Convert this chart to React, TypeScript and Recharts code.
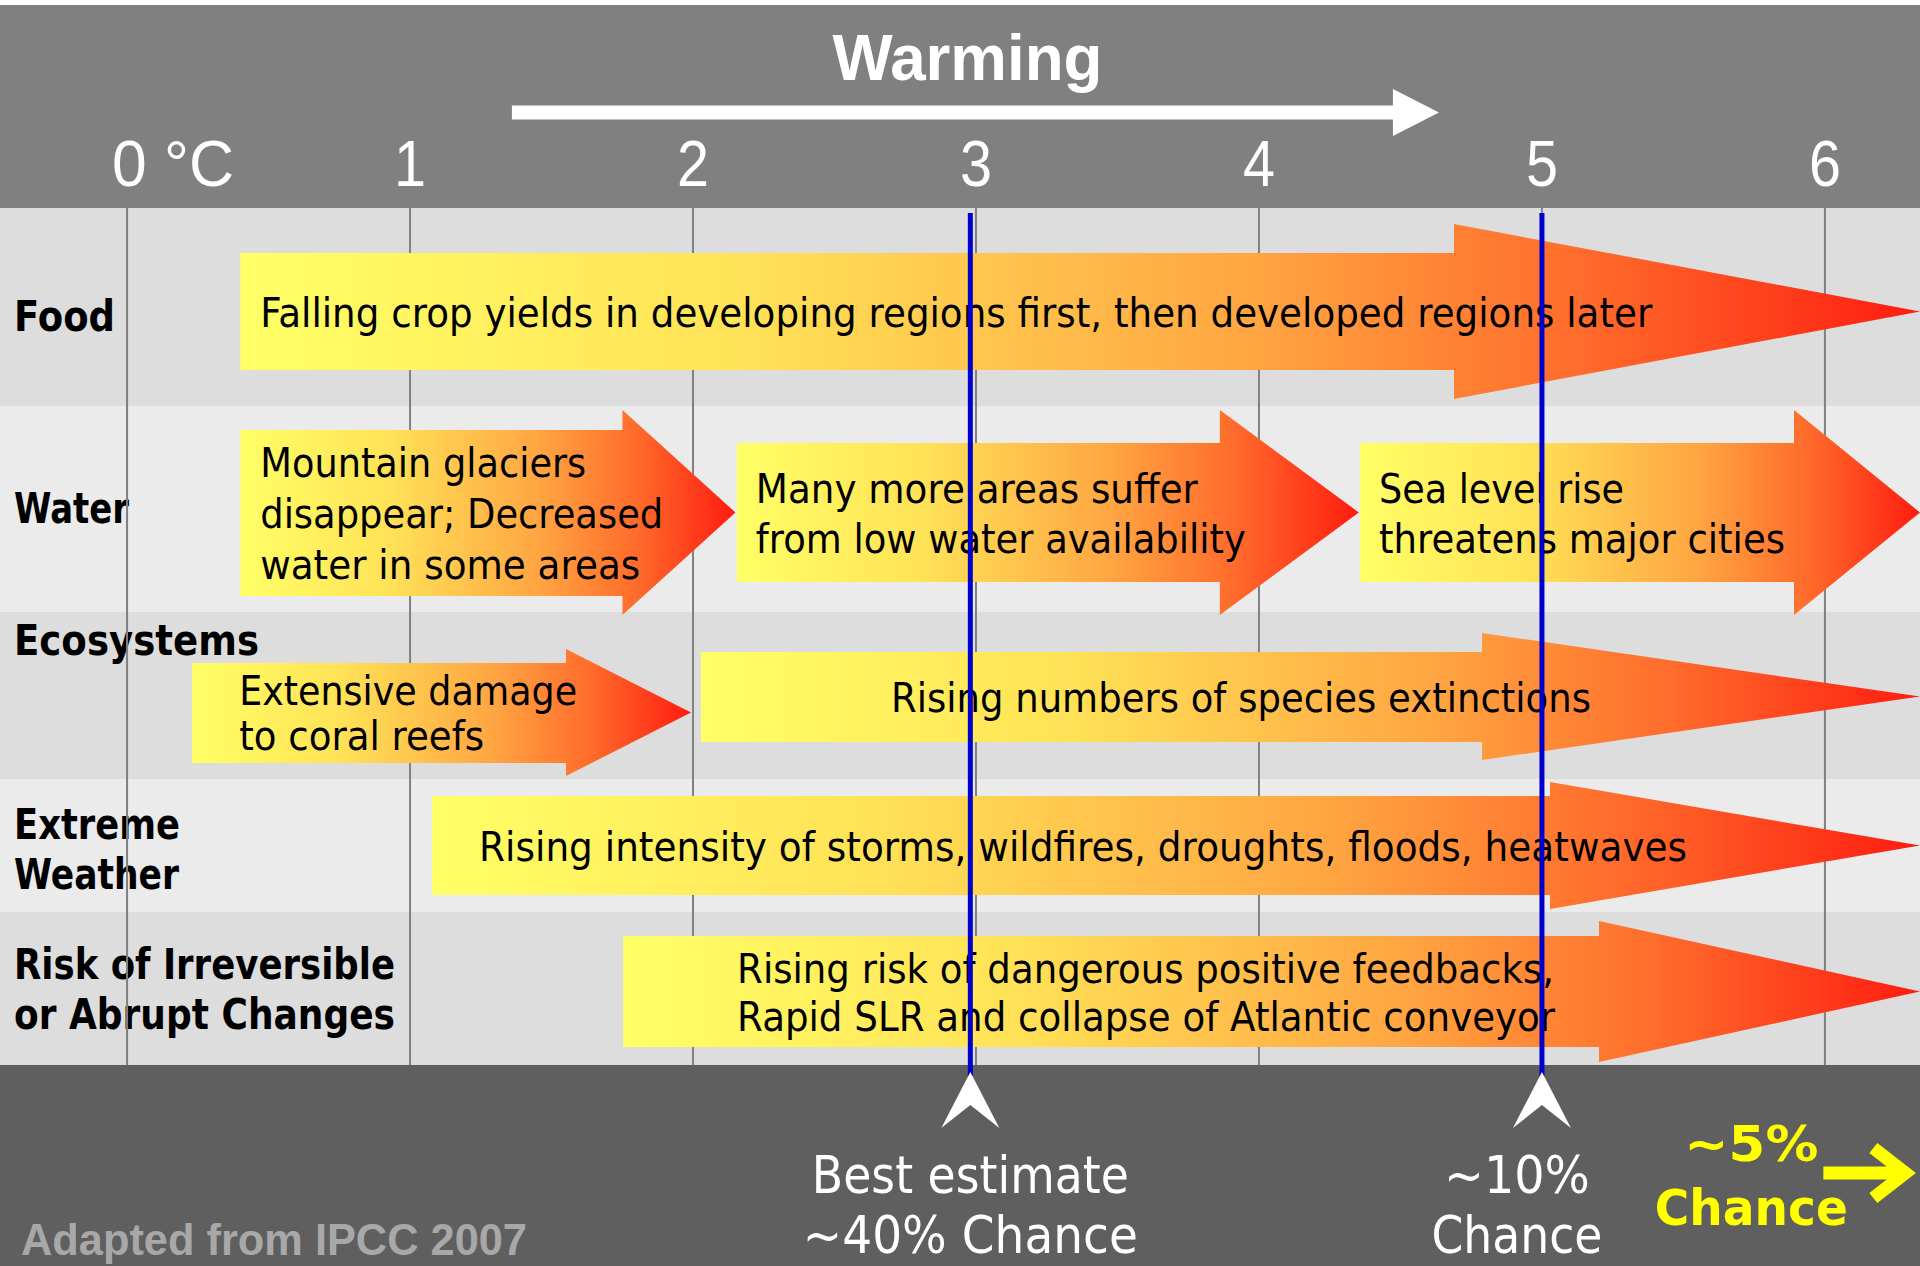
import { ComposedChart, XAxis, YAxis, ReferenceArea, ReferenceLine, Scatter } from 'recharts';

// ---- data ----
const TICK_VALUES = [0, 1, 2, 3, 4, 5, 6];
const TICK_LABELS = ['0 °C', '1', '2', '3', '4', '5', '6'];

const TITLE = 'Warming';
const TITLE_FROM = 1.36;
const TITLE_TO = 4.636;

const ROW_LABELS = [
  ['Food'],
  ['Water'],
  ['Ecosystems'],
  ['Extreme', 'Weather'],
  ['Risk of Irreversible', 'or Abrupt Changes'],
];

const IMPACT_TEXT = [
  ['Falling crop yields in developing regions first, then developed regions later'],
  ['Mountain glaciers', 'disappear; Decreased', 'water in some areas'],
  ['Many more areas suffer', 'from low water availability'],
  ['Sea level rise', 'threatens major cities'],
  ['Extensive damage', 'to coral reefs'],
  ['Rising numbers of species extinctions'],
  ['Rising intensity of storms, wildfires, droughts, floods, heatwaves'],
  ['Rising risk of dangerous positive feedbacks,', 'Rapid SLR and collapse of Atlantic conveyor'],
];
const IMPACT_ROW = [0, 1, 1, 1, 2, 2, 3, 4];
const IMPACT_FROM = [0.4, 0.4, 2.155, 4.357, 0.23, 2.028, 1.078, 1.753];
const IMPACT_TO = [6.336, 2.15, 4.353, 6.336, 1.993, 6.336, 6.336, 6.336];

const MARK_AT = [2.98, 5];
const MARK_TEXT = [['Best estimate', '~40% Chance'], ['~10%', 'Chance']];
const TAIL_AT = 5.74;
const TAIL_TEXT = ['~5%', 'Chance'];
const SOURCE = 'Adapted from IPCC 2007';

// ---- layout / style ----
const W = 1920;
const H = 1266;
const X_DOMAIN = [-0.449, 6.336];
const ROW_EDGES = [0, 198, 404, 571, 704, 857];
const ROW_FILL = ['#dddddd', '#ebebeb'];
const LABEL_BASE = [123, 117, 43, 60, 67];

// head top, head bottom, body top, body bottom (plot px)
const ARROW_BOX = [
  [16, 191, 45, 162],
  [202, 407, 222, 388],
  [202, 407, 235, 374],
  [202, 407, 235, 374],
  [441, 568, 455, 555],
  [425, 552, 444, 534],
  [574, 701, 588, 687],
  [713, 854, 728, 839],
];
const HEAD_LEN = [466, 113, 139, 126, 125, 438, 370, 321];
const TEXT_DX = [20, 20, 19, 19, 47, 190, 47, 114];
const LINE_GAP = [50, 51, 50, 50, 45, 50, 50, 48];
const MARK_DX = [0, -25];
const MARK_FIT = [[317, 335], [146, 171]];
const TAIL_FIT = [134, 193];

const FIT: Record<string, number> = {
  'Falling crop yields in developing regions first, then developed regions later': 1392,
  'Mountain glaciers': 326,
  'disappear; Decreased': 403,
  'water in some areas': 380,
  'Many more areas suffer': 442,
  'from low water availability': 490,
  'Sea level rise': 245,
  'threatens major cities': 406,
  'Extensive damage': 338,
  'to coral reefs': 245,
  'Rising numbers of species extinctions': 700,
  'Rising intensity of storms, wildfires, droughts, floods, heatwaves': 1208,
  'Rising risk of dangerous positive feedbacks,': 817,
  'Rapid SLR and collapse of Atlantic conveyor': 818,
  Food: 101,
  Water: 115,
  Ecosystems: 245,
  Extreme: 166,
  Weather: 165,
  'Risk of Irreversible': 381,
  'or Abrupt Changes': 381,
};

const BODY = 'DejaVu Sans, Verdana, sans-serif';
const HEAD = 'Liberation Sans, Arial, sans-serif';

const HEAT = [
  ['0%', '#ffff66'],
  ['30%', '#ffe257'],
  ['60%', '#ffa642'],
  ['80%', '#ff6b2b'],
  ['100%', '#ff1c10'],
];

// anchor points so the chart has data to lay its axes out from
const anchors = IMPACT_FROM.map((v, i) => ({
  deg: v,
  pos: (ARROW_BOX[i][0] + ARROW_BOX[i][1]) / 2,
  row: IMPACT_ROW[i],
}));

function DegreeTick(props: any) {
  const { x, payload } = props;
  const label = TICK_LABELS[TICK_VALUES.indexOf(payload.value)];
  const wide = label.length > 1;
  return (
    <text
      x={wide ? x - 15 : x}
      y={186}
      textAnchor={wide ? 'start' : 'middle'}
      fontFamily={HEAD}
      fontSize={64}
      fill="#ffffff"
      textLength={wide ? 122 : 32}
      lengthAdjust="spacingAndGlyphs"
    >
      {label}
    </text>
  );
}

function RowBand(props: any) {
  const { x, y, width, height, row } = props;
  return (
    <g>
      <rect x={x} y={y} width={width} height={height} fill={ROW_FILL[row % 2]} />
      {ROW_LABELS[row].map((t, k) => (
        <text
          key={t}
          x={x + 14}
          y={y + LABEL_BASE[row] + k * 50}
          fontFamily={BODY}
          fontWeight="bold"
          fontSize={42}
          fill="#000000"
          textLength={FIT[t]}
          lengthAdjust="spacingAndGlyphs"
        >
          {t}
        </text>
      ))}
    </g>
  );
}

function GridMark(props: any) {
  const { x, y, width, height } = props;
  const cx = x + width / 2;
  return <line x1={cx} x2={cx} y1={y} y2={y + height} stroke="#808080" strokeWidth={2} />;
}

function ImpactArrow(props: any) {
  const { x, y, width, height, i } = props;
  const [ht, , bt, bb] = ARROW_BOX[i];
  const top = y + (bt - ht);
  const bot = y + (bb - ht);
  const tip = x + width;
  const base = tip - HEAD_LEN[i];
  const mid = y + height / 2;
  const lines = IMPACT_TEXT[i];
  const first = mid - ((lines.length - 1) * LINE_GAP[i]) / 2 + 15;
  const id = `heat-${i}`;
  return (
    <g>
      <defs>
        <linearGradient id={id} x1="0" y1="0" x2="1" y2="0">
          {HEAT.map(([o, c]) => (
            <stop key={o} offset={o} stopColor={c} />
          ))}
        </linearGradient>
      </defs>
      <polygon
        points={`${x},${top} ${base},${top} ${base},${y} ${tip},${mid} ${base},${y + height} ${base},${bot} ${x},${bot}`}
        fill={`url(#${id})`}
      />
      {lines.map((t, k) => (
        <text
          key={t}
          x={x + TEXT_DX[i]}
          y={first + k * LINE_GAP[i]}
          fontFamily={BODY}
          fontSize={41}
          fill="#000000"
          textLength={FIT[t]}
          lengthAdjust="spacingAndGlyphs"
        >
          {t}
        </text>
      ))}
    </g>
  );
}

function TitleArrow(props: any) {
  const { x, y, width, height } = props;
  const end = x + width;
  const base = end - 46;
  const mid = y + height / 2;
  return (
    <g>
      <text
        x={x + width / 2 - 8}
        y={y - 9}
        textAnchor="middle"
        fontFamily={HEAD}
        fontWeight="bold"
        fontSize={64}
        fill="#ffffff"
        textLength={270}
        lengthAdjust="spacingAndGlyphs"
      >
        {TITLE}
      </text>
      <polygon
        points={`${x},${mid - 7} ${base},${mid - 7} ${base},${y} ${end},${mid} ${base},${y + height} ${base},${mid + 7} ${x},${mid + 7}`}
        fill="#ffffff"
      />
    </g>
  );
}

function Marker(props: any) {
  const { x1, y1, y2, mark } = props;
  const top = Math.min(y1, y2);
  const bottom = Math.max(y1, y2);
  const cx = x1 + MARK_DX[mark];
  return (
    <g>
      <line x1={x1} x2={x1} y1={top + 5} y2={bottom + 12} stroke="#0000cc" strokeWidth={5} />
      <polygon
        points={`${x1},${bottom + 7} ${x1 + 29},${bottom + 63} ${x1},${bottom + 40} ${x1 - 29},${bottom + 63}`}
        fill="#ffffff"
      />
      {MARK_TEXT[mark].map((t, k) => (
        <text
          key={t}
          x={cx}
          y={bottom + 128 + k * 60}
          textAnchor="middle"
          fontFamily={BODY}
          fontSize={51}
          fill="#ffffff"
          textLength={MARK_FIT[mark][k]}
          lengthAdjust="spacingAndGlyphs"
        >
          {t}
        </text>
      ))}
    </g>
  );
}

function Tail(props: any) {
  const { x1, y1, y2 } = props;
  const bottom = Math.max(y1, y2);
  const ay = bottom + 108;
  return (
    <g>
      {TAIL_TEXT.map((t, k) => (
        <text
          key={t}
          x={x1}
          y={bottom + 96 + k * 64}
          textAnchor="middle"
          fontFamily={BODY}
          fontWeight="bold"
          fontSize={50}
          fill="#ffff00"
          textLength={TAIL_FIT[k]}
          lengthAdjust="spacingAndGlyphs"
        >
          {t}
        </text>
      ))}
      <line x1={x1 + 72} x2={x1 + 156} y1={ay} y2={ay} stroke="#ffff00" strokeWidth={13} />
      <polyline
        points={`${x1 + 122},${ay - 25} ${x1 + 154},${ay} ${x1 + 122},${ay + 25}`}
        fill="none"
        stroke="#ffff00"
        strokeWidth={13}
      />
    </g>
  );
}

function SourceNote(props: any) {
  const { x, y } = props;
  return (
    <text
      x={x + 21}
      y={y + 190}
      fontFamily={HEAD}
      fontWeight="bold"
      fontSize={44}
      fill="#a8a8a8"
      textLength={506}
      lengthAdjust="spacingAndGlyphs"
    >
      {SOURCE}
    </text>
  );
}

export default function App() {
  return (
    <div
      style={{
        position: 'absolute',
        left: 0,
        top: 0,
        width: W,
        height: H,
        overflow: 'hidden',
        background:
          'linear-gradient(to bottom, #ffffff 0px, #ffffff 5px, #808080 5px, #808080 208px, #dddddd 208px, #dddddd 1065px, #5f5f5f 1065px)',
      }}
    >
      <ComposedChart width={W} height={H} data={anchors} margin={{ top: 5, right: 0, bottom: 201, left: 0 }}>
        <XAxis
          dataKey="deg"
          type="number"
          orientation="top"
          height={203}
          domain={X_DOMAIN}
          ticks={TICK_VALUES}
          interval={0}
          allowDataOverflow
          axisLine={false}
          tickLine={false}
          tick={<DegreeTick />}
        />
        <YAxis
          dataKey="pos"
          type="number"
          domain={[0, ROW_EDGES[ROW_EDGES.length - 1]]}
          reversed
          hide
          allowDataOverflow
        />

        {ROW_LABELS.map((_, row) => (
          <ReferenceArea
            key={`row-${row}`}
            x1={X_DOMAIN[0]}
            x2={X_DOMAIN[1]}
            y1={ROW_EDGES[row]}
            y2={ROW_EDGES[row + 1]}
            ifOverflow="visible"
            shape={(p: any) => <RowBand {...p} row={row} />}
          />
        ))}

        {TICK_VALUES.map((v) => (
          <ReferenceArea
            key={`grid-${v}`}
            x1={v - 0.002}
            x2={v + 0.002}
            y1={ROW_EDGES[0]}
            y2={ROW_EDGES[ROW_EDGES.length - 1]}
            ifOverflow="visible"
            shape={(p: any) => <GridMark {...p} />}
          />
        ))}

        <ReferenceArea
          x1={TITLE_FROM}
          x2={TITLE_TO}
          y1={-119}
          y2={-72}
          ifOverflow="visible"
          shape={(p: any) => <TitleArrow {...p} />}
        />

        {IMPACT_TEXT.map((_, i) => (
          <ReferenceArea
            key={`impact-${i}`}
            x1={IMPACT_FROM[i]}
            x2={IMPACT_TO[i]}
            y1={ARROW_BOX[i][0]}
            y2={ARROW_BOX[i][1]}
            ifOverflow="visible"
            shape={(p: any) => <ImpactArrow {...p} i={i} />}
          />
        ))}

        <ReferenceArea
          x1={X_DOMAIN[0]}
          x2={X_DOMAIN[1]}
          y1={ROW_EDGES[ROW_EDGES.length - 1]}
          y2={ROW_EDGES[ROW_EDGES.length - 1] + 201}
          ifOverflow="visible"
          shape={(p: any) => <SourceNote {...p} />}
        />

        {MARK_AT.map((v, mark) => (
          <ReferenceLine
            key={`mark-${v}`}
            x={v}
            ifOverflow="visible"
            shape={(p: any) => <Marker {...p} mark={mark} />}
          />
        ))}

        <ReferenceLine x={TAIL_AT} ifOverflow="visible" shape={(p: any) => <Tail {...p} />} />

        <Scatter dataKey="pos" isAnimationActive={false} shape={() => <g />} />
      </ComposedChart>
    </div>
  );
}
